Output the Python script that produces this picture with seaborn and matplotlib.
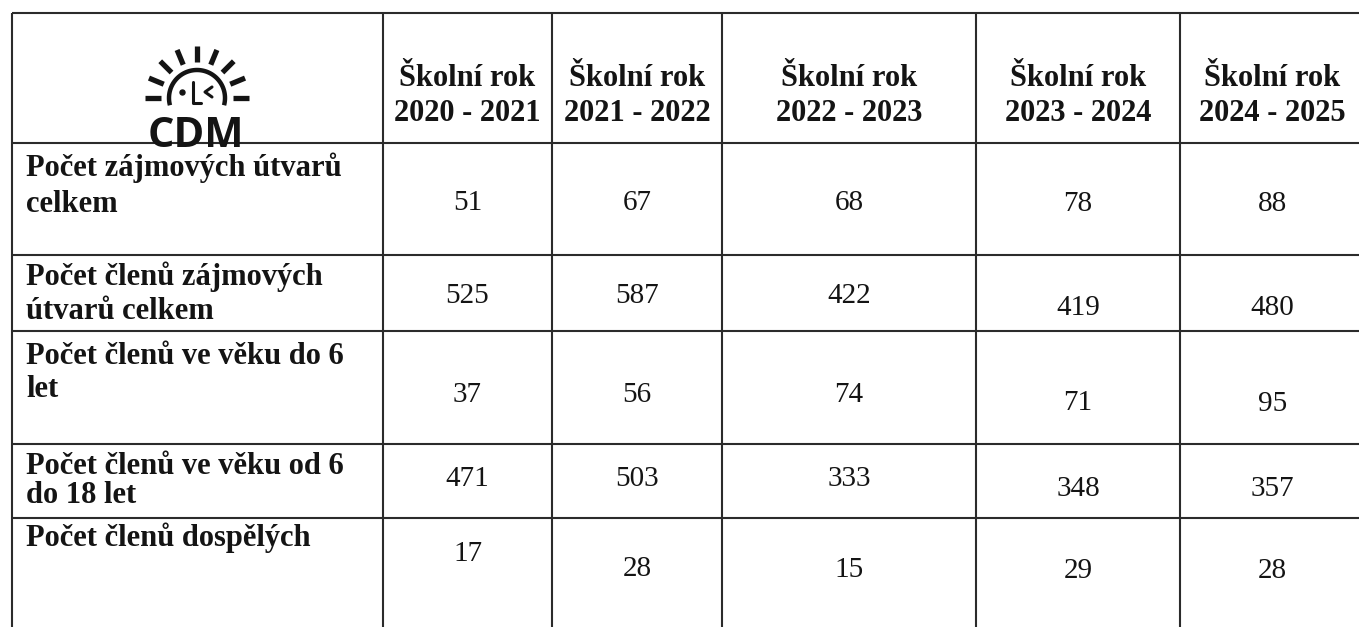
"""
plot.py
-------
Tabulka zájmových útvarů CDM (naskenovaná stránka) překreslená přes seaborn/matplotlib.
"""

import numpy as np
import pandas as pd
import matplotlib
matplotlib.use("Agg")
import matplotlib.pyplot as plt
import seaborn as sns


# ──────────────────────────────────────────────
# Data
# ──────────────────────────────────────────────
HEADER_PREFIX = "Školní rok"
SCHOOL_YEARS = ["2020 - 2021", "2021 - 2022", "2022 - 2023", "2023 - 2024", "2024 - 2025"]

ROW_LABELS = [
    "Počet zájmových útvarů\ncelkem",
    "Počet členů zájmových\nútvarů celkem",
    "Počet členů ve věku do 6\nlet",
    "Počet členů ve věku od 6\ndo 18 let",
    "Počet členů dospělých",
]

UTVARY_CELKEM = [51, 67, 68, 78, 88]
CLENOVE_CELKEM = [525, 587, 422, 419, 480]
CLENOVE_DO_6 = [37, 56, 74, 71, 95]
CLENOVE_6_AZ_18 = [471, 503, 333, 348, 357]
CLENOVE_DOSPELI = [17, 28, 15, 29, 28]

LOGO_TEXT = "CDM"


# ──────────────────────────────────────────────
# Layout (pixels of the scanned page)
# ──────────────────────────────────────────────
W, H = 1359, 627
COL_EDGES = [12, 383, 552, 722, 976, 1180, 1365]
ROW_EDGES = [13, 143, 255, 331, 444, 518, 640]

HEADER_BASELINES = [86, 121]
LABEL_BASELINES = [[176, 212], [285, 319], [364, 397], [474, 503], [546]]
VALUE_BASELINES = [
    [210, 210, 210, 211, 211],
    [303, 303, 303, 315, 315],
    [402, 402, 402, 410, 411],
    [486, 486, 486, 496, 496],
    [561, 576, 577, 578, 578],
]

INK = "#141414"
LINE = "#2b2b2b"
SERIF = ["Liberation Serif", "DejaVu Serif"]
FS_HEAD = 22
FS_LABEL = 22
FS_VALUE = 21


def build_table() -> pd.DataFrame:
    rows = [UTVARY_CELKEM, CLENOVE_CELKEM, CLENOVE_DO_6, CLENOVE_6_AZ_18, CLENOVE_DOSPELI]
    return pd.DataFrame(rows, index=ROW_LABELS, columns=SCHOOL_YEARS)


# ──────────────────────────────────────────────
# Logo
# ──────────────────────────────────────────────
def draw_logo(ax):
    cx, cy, r = 197, 98, 28
    # ring, open at the bottom (y axis is inverted)
    t = np.radians(np.linspace(165, 375, 120))
    ax.plot(cx + r * np.cos(t), cy + r * np.sin(t), color=INK, lw=3.2,
            solid_capstyle="butt")
    # rays
    for a in np.radians(np.linspace(180, 0, 9)):
        ax.plot([cx + 36 * np.cos(a), cx + 52 * np.cos(a)],
                [cy - 36 * np.sin(a), cy - 52 * np.sin(a)],
                color=INK, lw=3.8, solid_capstyle="butt")
    # face  · L <
    ax.plot([182], [92], "o", color=INK, ms=3.6)
    ax.plot([193, 193, 201], [82, 103, 103], color=INK, lw=2.2)
    ax.plot([212, 205, 212], [87, 92, 97], color=INK, lw=2.2)
    ax.text(196, 147, LOGO_TEXT, ha="center", va="baseline", color=INK,
            fontsize=30, fontweight="bold", family=["Open Sans", "DejaVu Sans"])


# ──────────────────────────────────────────────
# Table
# ──────────────────────────────────────────────
def draw_table(ax, df: pd.DataFrame):
    # grid
    ax.hlines(ROW_EDGES[:-1], COL_EDGES[0], W + 10, color=LINE, lw=1.5)
    ax.vlines(COL_EDGES[:-1], ROW_EDGES[0], H + 10, color=LINE, lw=1.5)

    centers = [(a + b) / 2 for a, b in zip(COL_EDGES[1:-1], COL_EDGES[2:])]

    # header
    for xc, year in zip(centers, df.columns):
        for txt, yb in zip([HEADER_PREFIX, year], HEADER_BASELINES):
            ax.text(xc, yb, txt, ha="center", va="baseline", color=INK,
                    fontsize=FS_HEAD, fontweight="bold", family=SERIF)

    # row labels + values
    for i, (label, row) in enumerate(df.iterrows()):
        for line, yb in zip(label.split("\n"), LABEL_BASELINES[i]):
            ax.text(COL_EDGES[0] + 14, yb, line, ha="left", va="baseline",
                    color=INK, fontsize=FS_LABEL, fontweight="bold", family=SERIF)
        for j, (xc, v) in enumerate(zip(centers, row.values)):
            ax.text(xc, VALUE_BASELINES[i][j], f"{v}", ha="center",
                    va="baseline", color=INK, fontsize=FS_VALUE, family=SERIF)


if __name__ == "__main__":
    sns.set_theme(style="white")
    plt.rcParams["font.family"] = SERIF

    fig = plt.figure(figsize=(W / 100, H / 100), dpi=100)
    ax = fig.add_axes([0, 0, 1, 1])
    ax.set_xlim(0, W)
    ax.set_ylim(H, 0)
    ax.axis("off")

    draw_table(ax, build_table())
    draw_logo(ax)

    fig.savefig("out.png", dpi=100, facecolor="white")
    plt.close(fig)
